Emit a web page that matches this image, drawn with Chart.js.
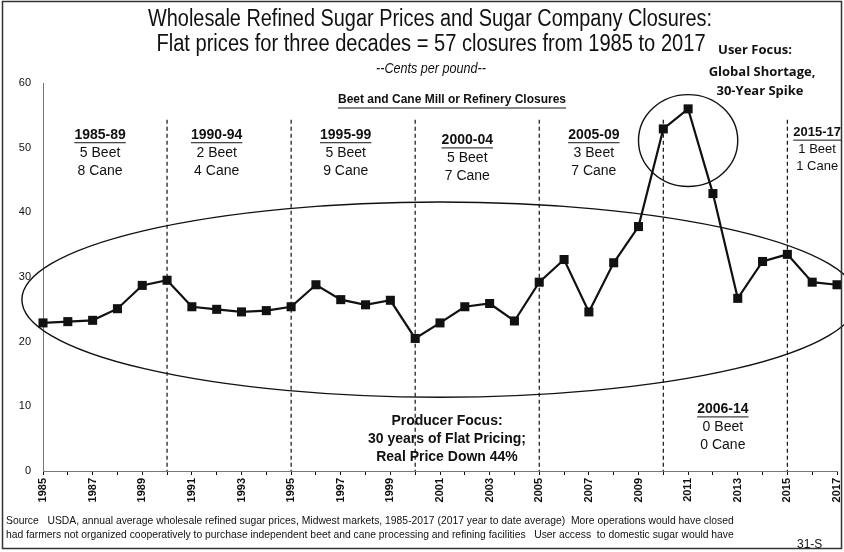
<!DOCTYPE html>
<html>
<head>
<meta charset="utf-8">
<title>Wholesale Refined Sugar Prices and Sugar Company Closures</title>
<script src="https://cdn.jsdelivr.net/npm/chart.js@4.4.0/dist/chart.umd.min.js"></script>
<style>
   html, body { margin: 0; padding: 0; background: #fff; }
   #wrap { position: relative; width: 844px; height: 552px; }
</style>
</head>
<body>
<div id="wrap"><canvas id="sugarChart" width="844" height="552"></canvas></div>
<script>
// annual average wholesale refined sugar price, cents per pound
const years = [1985, 1986, 1987, 1988, 1989, 1990, 1991, 1992, 1993, 1994, 1995,
   1996, 1997, 1998, 1999, 2000, 2001, 2002, 2003, 2004, 2005,
   2006, 2007, 2008, 2009, 2010, 2011, 2012, 2013, 2014, 2015, 2016, 2017];
const prices = [22.9, 23.1, 23.3, 25.1, 28.7, 29.5, 25.4, 25.0, 24.6, 24.8, 25.4,
   28.8, 26.5, 25.7, 26.4, 20.5, 22.9, 25.4, 25.9, 23.2, 29.2,
   32.7, 24.6, 32.2, 37.8, 52.9, 56.0, 42.9, 26.7, 32.4, 33.5, 29.2, 28.8];
const yTicks = [0, 10, 20, 30, 40, 50, 60];
const labelYears = [1985, 1987, 1989, 1991, 1993, 1995, 1997, 1999, 2001, 2003,
   2005, 2007, 2009, 2011, 2013, 2015, 2017];

// closures per period
const dividerYears = [1990, 1995, 2000, 2005, 2010, 2015];
const periodNames = ['1985-89', '1990-94', '1995-99', '2000-04', '2005-09', '2015-17', '2006-14'];
const beetClosures = [5, 2, 5, 5, 3, 1, 0];
const caneClosures = [8, 4, 9, 7, 7, 1, 0];

const titleLines = [
   'Wholesale Refined Sugar Prices and Sugar Company Closures:',
   'Flat prices for three decades = 57 closures from 1985 to 2017'
];
const unitText = '--Cents per pound--';
const closuresHeading = 'Beet and Cane Mill or Refinery Closures';
const userFocus = ['User Focus:', 'Global Shortage,', '30-Year Spike'];
const producerFocus = ['Producer Focus:', '30 years of Flat Pricing;', 'Real Price Down 44%'];
const sourceLines = [
   'Source   USDA, annual average wholesale refined sugar prices, Midwest markets, 1985-2017 (2017 year to date average)  More operations would have closed',
   'had farmers not organized cooperatively to purchase independent beet and cane processing and refining facilities   User access  to domestic sugar would have'
];
const pageTag = '31-S';

// where the period labels sit, in axis units (year, cents)
const periodSpots = [
   [1987.3, 52.0], [1992.0, 52.0], [1997.2, 52.0], [2002.1, 51.2],
   [2007.2, 52.0], [2016.2, 52.4], [2012.4, 9.6]
];

const ARIAL = '"Liberation Sans", Arial, sans-serif';
const INK = '#111';

// no narrow face installed, so squeeze Arial sideways
function squeeze(ctx, text, x, y, sx) {
   ctx.save();
   ctx.translate(x, y);
   ctx.scale(sx, 1);
   ctx.fillText(text, 0, 0);
   ctx.restore();
}

function underlined(ctx, text, x, y, sx = 1) {
   squeeze(ctx, text, x, y, sx);
   const w = ctx.measureText(text).width * sx;
   ctx.beginPath();
   ctx.moveTo(x - w / 2, y + 8);
   ctx.lineTo(x + w / 2, y + 8);
   ctx.stroke();
}

const notesPlugin = {
   id: 'sugarNotes',
   beforeDatasetsDraw(chart) {
      const {ctx, scales: {x, y}} = chart;
      ctx.save();

      // period dividers
      ctx.strokeStyle = INK;
      ctx.lineWidth = 1.2;
      ctx.setLineDash([4, 3]);
      dividerYears.forEach(yr => {
         const px = x.getPixelForValue(yr);
         ctx.beginPath();
         ctx.moveTo(px, y.getPixelForValue(54.3));
         ctx.lineTo(px, y.getPixelForValue(0));
         ctx.stroke();
      });
      ctx.setLineDash([]);

      // big "flat pricing" ellipse and the spike circle
      ctx.lineWidth = 1.4;
      const cx = x.getPixelForValue(2001.0), cy = y.getPixelForValue(26.5);
      const rx = x.getPixelForValue(2001.0 + 16.85) - cx;
      const ry = cy - y.getPixelForValue(26.5 + 15.1);
      ctx.beginPath();
      ctx.ellipse(cx, cy, rx, ry, 0, 0, Math.PI * 2);
      ctx.stroke();

      const sx = x.getPixelForValue(2011.0), sy = y.getPixelForValue(51.1);
      ctx.beginPath();
      ctx.ellipse(sx, sy, x.getPixelForValue(2013.0) - sx, sy - y.getPixelForValue(58.2), 0, 0, Math.PI * 2);
      ctx.stroke();
      ctx.restore();
   },
   afterDraw(chart) {
      const {ctx, scales: {x, y}} = chart;
      ctx.save();
      ctx.fillStyle = INK;
      ctx.strokeStyle = INK;
      ctx.textAlign = 'center';
      ctx.textBaseline = 'middle';

      ctx.font = '23px ' + ARIAL;
      squeeze(ctx, titleLines[0], 430, 20, 0.865);
      squeeze(ctx, titleLines[1], 431, 45, 0.874);
      ctx.font = 'italic 14px ' + ARIAL;
      squeeze(ctx, unitText, 431, 69, 0.9);

      ctx.font = 'bold 13px "Open Sans", sans-serif';
      ctx.fillText(userFocus[0], 755, 50);
      ctx.fillText(userFocus[1], 762, 72);
      ctx.fillText(userFocus[2], 760, 91);

      ctx.lineWidth = 1;
      ctx.font = 'bold 12px ' + ARIAL;
      underlined(ctx, closuresHeading, 452, 100, 1);

      periodNames.forEach((name, i) => {
         const px = x.getPixelForValue(periodSpots[i][0]);
         const py = y.getPixelForValue(periodSpots[i][1]);
         const small = name === '2015-17';
         const step = small ? 17 : 18;
         ctx.font = 'bold ' + (small ? 13 : 14) + 'px ' + ARIAL;
         underlined(ctx, name, px, py);
         ctx.font = (small ? 13 : 14) + 'px ' + ARIAL;
         ctx.fillText(beetClosures[i] + ' Beet', px, py + step);
         ctx.fillText(caneClosures[i] + ' Cane', px, py + step * 2);
      });

      ctx.font = 'bold 14px ' + ARIAL;
      ctx.fillText(producerFocus[0], 447, 421);
      ctx.fillText(producerFocus[1], 447, 439);
      ctx.fillText(producerFocus[2], 447, 457);

      ctx.textAlign = 'left';
      ctx.font = '11.5px ' + ARIAL;
      squeeze(ctx, sourceLines[0], 6, 521, 0.9);
      squeeze(ctx, sourceLines[1], 6, 535, 0.9);
      ctx.font = '12px ' + ARIAL;
      ctx.fillText(pageTag, 797, 545);

      // outer frame
      ctx.lineWidth = 1.5;
      ctx.strokeStyle = '#333';
      ctx.strokeRect(2.5, 1.5, 839, 547);
      ctx.restore();
   }
};

new Chart(document.getElementById('sugarChart'), {
   type: 'line',
   data: {
      datasets: [{
         data: years.map((yr, i) => ({x: yr, y: prices[i]})),
         borderColor: INK,
         backgroundColor: INK,
         borderWidth: 2.2,
         pointStyle: 'rect',
         pointRadius: 6.4,
         pointBorderWidth: 0,
         tension: 0,
         clip: false
      }]
   },
   options: {
      responsive: false,
      animation: false,
      devicePixelRatio: 1,
      layout: {padding: {top: 83, right: 7, left: 0, bottom: 0}},
      plugins: {legend: {display: false}, tooltip: {enabled: false}, title: {display: false}},
      scales: {
         x: {
            type: 'linear',
            min: 1985,
            max: 2017,
            afterFit: s => { s.height = 81; s.paddingLeft = 0; s.paddingRight = 0; },
            afterBuildTicks: s => { s.ticks = years.map(v => ({value: v})); },
            grid: {drawOnChartArea: false, drawTicks: true, tickLength: 4, color: INK},
            border: {display: true, color: '#777', dash: [2, 2], width: 1},
            ticks: {
               autoSkip: false,
               minRotation: 90,
               maxRotation: 90,
               padding: 3,
               color: INK,
               font: {family: ARIAL, size: 11, weight: 'bold'},
               callback: v => labelYears.includes(v) ? String(v) : ''
            }
         },
         y: {
            min: 0,
            max: 60,
            afterFit: s => { s.width = 43; },
            afterBuildTicks: s => { s.ticks = yTicks.map(v => ({value: v})); },
            grid: {display: false, drawTicks: false},
            border: {display: true, color: '#777', dash: [1, 2], width: 1},
            ticks: {
               padding: 12,
               color: INK,
               font: {family: ARIAL, size: 11}
            }
         }
      }
   },
   plugins: [notesPlugin]
});
</script>
</body>
</html>
